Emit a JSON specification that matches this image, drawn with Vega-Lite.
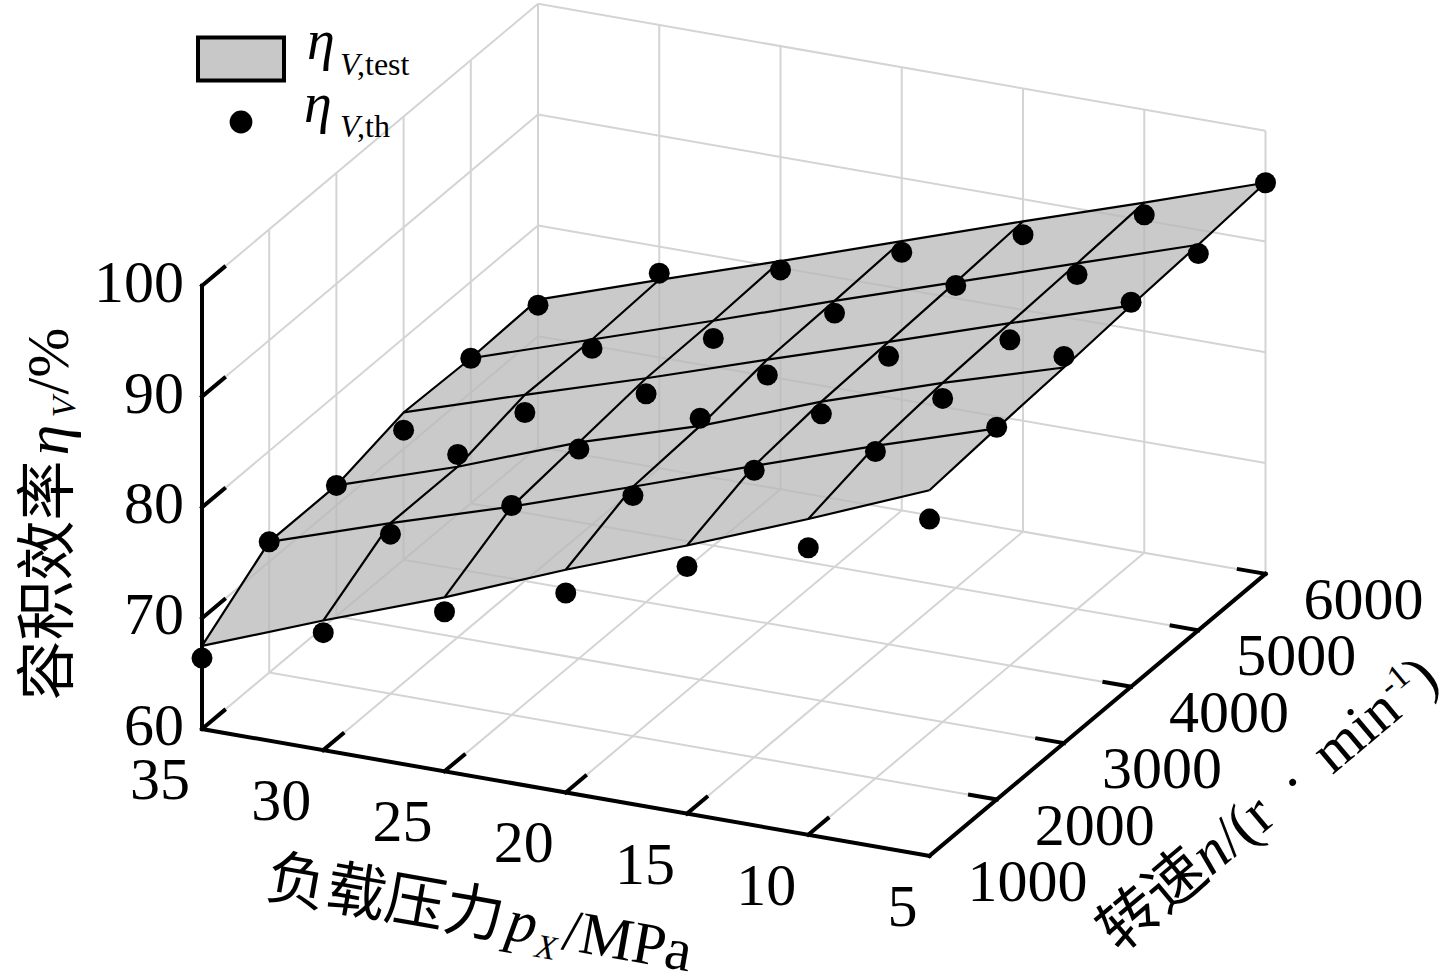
{
  "$schema": "https://vega.github.io/schema/vega-lite/v6.json",
  "width": 1455,
  "height": 975,
  "autosize": {"type": "none"},
  "padding": 0,
  "background": "white",
  "config": {"view": {"stroke": null}},
  "data": {
    "values": [
      {"kind": "test", "p": 35, "n": 1000, "e": 67.5},
      {"kind": "test", "p": 35, "n": 2000, "e": 71.8},
      {"kind": "test", "p": 35, "n": 3000, "e": 71.8},
      {"kind": "test", "p": 35, "n": 4000, "e": 73.3},
      {"kind": "test", "p": 35, "n": 5000, "e": 73.1},
      {"kind": "test", "p": 35, "n": 6000, "e": 73.3},
      {"kind": "test", "p": 30, "n": 1000, "e": 71.7},
      {"kind": "test", "p": 30, "n": 2000, "e": 75.4},
      {"kind": "test", "p": 30, "n": 3000, "e": 75.4},
      {"kind": "test", "p": 30, "n": 4000, "e": 76.8},
      {"kind": "test", "p": 30, "n": 5000, "e": 76.7},
      {"kind": "test", "p": 30, "n": 6000, "e": 77.0},
      {"kind": "test", "p": 25, "n": 1000, "e": 75.7},
      {"kind": "test", "p": 25, "n": 2000, "e": 78.8},
      {"kind": "test", "p": 25, "n": 3000, "e": 79.5},
      {"kind": "test", "p": 25, "n": 4000, "e": 80.2},
      {"kind": "test", "p": 25, "n": 5000, "e": 80.3},
      {"kind": "test", "p": 25, "n": 6000, "e": 80.6},
      {"kind": "test", "p": 20, "n": 1000, "e": 80.1},
      {"kind": "test", "p": 20, "n": 2000, "e": 82.5},
      {"kind": "test", "p": 20, "n": 3000, "e": 82.9},
      {"kind": "test", "p": 20, "n": 4000, "e": 83.8},
      {"kind": "test", "p": 20, "n": 5000, "e": 84.0},
      {"kind": "test", "p": 20, "n": 6000, "e": 84.3},
      {"kind": "test", "p": 15, "n": 1000, "e": 84.2},
      {"kind": "test", "p": 15, "n": 2000, "e": 86.3},
      {"kind": "test", "p": 15, "n": 3000, "e": 87.0},
      {"kind": "test", "p": 15, "n": 4000, "e": 87.3},
      {"kind": "test", "p": 15, "n": 5000, "e": 87.6},
      {"kind": "test", "p": 15, "n": 6000, "e": 88.0},
      {"kind": "test", "p": 10, "n": 1000, "e": 88.5},
      {"kind": "test", "p": 10, "n": 2000, "e": 90.0},
      {"kind": "test", "p": 10, "n": 3000, "e": 90.6},
      {"kind": "test", "p": 10, "n": 4000, "e": 90.9},
      {"kind": "test", "p": 10, "n": 5000, "e": 91.2},
      {"kind": "test", "p": 10, "n": 6000, "e": 91.6},
      {"kind": "test", "p": 5, "n": 1000, "e": 93.0},
      {"kind": "test", "p": 5, "n": 2000, "e": 93.5},
      {"kind": "test", "p": 5, "n": 3000, "e": 93.9},
      {"kind": "test", "p": 5, "n": 4000, "e": 94.4},
      {"kind": "test", "p": 5, "n": 5000, "e": 94.8},
      {"kind": "test", "p": 5, "n": 6000, "e": 95.3},

      {"kind": "th", "p": 35, "n": 1000, "e": 66.4},
      {"kind": "th", "p": 30, "n": 1000, "e": 70.6},
      {"kind": "th", "p": 25, "n": 1000, "e": 74.4},
      {"kind": "th", "p": 20, "n": 1000, "e": 78.0},
      {"kind": "th", "p": 15, "n": 1000, "e": 82.3},
      {"kind": "th", "p": 10, "n": 1000, "e": 85.9},
      {"kind": "th", "p": 5, "n": 1000, "e": 90.4},
      {"kind": "th", "p": 35, "n": 2000, "e": 71.8},
      {"kind": "th", "p": 30, "n": 2000, "e": 74.4},
      {"kind": "th", "p": 25, "n": 2000, "e": 78.9},
      {"kind": "th", "p": 20, "n": 2000, "e": 81.7},
      {"kind": "th", "p": 15, "n": 2000, "e": 85.9},
      {"kind": "th", "p": 10, "n": 2000, "e": 89.5},
      {"kind": "th", "p": 5, "n": 2000, "e": 93.6},
      {"kind": "th", "p": 35, "n": 3000, "e": 71.8},
      {"kind": "th", "p": 30, "n": 3000, "e": 76.5},
      {"kind": "th", "p": 25, "n": 3000, "e": 78.9},
      {"kind": "th", "p": 20, "n": 3000, "e": 83.6},
      {"kind": "th", "p": 15, "n": 3000, "e": 85.9},
      {"kind": "th", "p": 10, "n": 3000, "e": 89.2},
      {"kind": "th", "p": 5, "n": 3000, "e": 94.9},
      {"kind": "th", "p": 35, "n": 4000, "e": 71.7},
      {"kind": "th", "p": 30, "n": 4000, "e": 75.2},
      {"kind": "th", "p": 25, "n": 4000, "e": 78.8},
      {"kind": "th", "p": 20, "n": 4000, "e": 82.4},
      {"kind": "th", "p": 15, "n": 4000, "e": 86.0},
      {"kind": "th", "p": 10, "n": 4000, "e": 89.4},
      {"kind": "th", "p": 5, "n": 4000, "e": 94.7},
      {"kind": "th", "p": 35, "n": 5000, "e": 73.1},
      {"kind": "th", "p": 30, "n": 5000, "e": 75.9},
      {"kind": "th", "p": 25, "n": 5000, "e": 78.7},
      {"kind": "th", "p": 20, "n": 5000, "e": 82.9},
      {"kind": "th", "p": 15, "n": 5000, "e": 87.3},
      {"kind": "th", "p": 10, "n": 5000, "e": 90.2},
      {"kind": "th", "p": 5, "n": 5000, "e": 94.0},
      {"kind": "th", "p": 35, "n": 6000, "e": 72.8},
      {"kind": "th", "p": 30, "n": 6000, "e": 77.6},
      {"kind": "th", "p": 25, "n": 6000, "e": 79.8},
      {"kind": "th", "p": 20, "n": 6000, "e": 83.3},
      {"kind": "th", "p": 15, "n": 6000, "e": 86.8},
      {"kind": "th", "p": 10, "n": 6000, "e": 90.5},
      {"kind": "th", "p": 5, "n": 6000, "e": 95.3},

      {"kind": "grid", "p": 35, "n": 1000, "e": 60, "p2": 35, "n2": 6000, "e2": 60},
      {"kind": "grid", "p": 30, "n": 1000, "e": 60, "p2": 30, "n2": 6000, "e2": 60},
      {"kind": "grid", "p": 25, "n": 1000, "e": 60, "p2": 25, "n2": 6000, "e2": 60},
      {"kind": "grid", "p": 20, "n": 1000, "e": 60, "p2": 20, "n2": 6000, "e2": 60},
      {"kind": "grid", "p": 15, "n": 1000, "e": 60, "p2": 15, "n2": 6000, "e2": 60},
      {"kind": "grid", "p": 10, "n": 1000, "e": 60, "p2": 10, "n2": 6000, "e2": 60},
      {"kind": "grid", "p": 35, "n": 2000, "e": 60, "p2": 5, "n2": 2000, "e2": 60},
      {"kind": "grid", "p": 35, "n": 3000, "e": 60, "p2": 5, "n2": 3000, "e2": 60},
      {"kind": "grid", "p": 35, "n": 4000, "e": 60, "p2": 5, "n2": 4000, "e2": 60},
      {"kind": "grid", "p": 35, "n": 5000, "e": 60, "p2": 5, "n2": 5000, "e2": 60},
      {"kind": "grid", "p": 35, "n": 6000, "e": 60, "p2": 5, "n2": 6000, "e2": 60},
      {"kind": "grid", "p": 35, "n": 2000, "e": 60, "p2": 35, "n2": 2000, "e2": 100},
      {"kind": "grid", "p": 35, "n": 3000, "e": 60, "p2": 35, "n2": 3000, "e2": 100},
      {"kind": "grid", "p": 35, "n": 4000, "e": 60, "p2": 35, "n2": 4000, "e2": 100},
      {"kind": "grid", "p": 35, "n": 5000, "e": 60, "p2": 35, "n2": 5000, "e2": 100},
      {"kind": "grid", "p": 35, "n": 6000, "e": 60, "p2": 35, "n2": 6000, "e2": 100},
      {"kind": "grid", "p": 35, "n": 1000, "e": 70, "p2": 35, "n2": 6000, "e2": 70},
      {"kind": "grid", "p": 35, "n": 1000, "e": 80, "p2": 35, "n2": 6000, "e2": 80},
      {"kind": "grid", "p": 35, "n": 1000, "e": 90, "p2": 35, "n2": 6000, "e2": 90},
      {"kind": "grid", "p": 35, "n": 1000, "e": 100, "p2": 35, "n2": 6000, "e2": 100},
      {"kind": "grid", "p": 30, "n": 6000, "e": 60, "p2": 30, "n2": 6000, "e2": 100},
      {"kind": "grid", "p": 25, "n": 6000, "e": 60, "p2": 25, "n2": 6000, "e2": 100},
      {"kind": "grid", "p": 20, "n": 6000, "e": 60, "p2": 20, "n2": 6000, "e2": 100},
      {"kind": "grid", "p": 15, "n": 6000, "e": 60, "p2": 15, "n2": 6000, "e2": 100},
      {"kind": "grid", "p": 10, "n": 6000, "e": 60, "p2": 10, "n2": 6000, "e2": 100},
      {"kind": "grid", "p": 5, "n": 6000, "e": 60, "p2": 5, "n2": 6000, "e2": 100},
      {"kind": "grid", "p": 35, "n": 6000, "e": 70, "p2": 5, "n2": 6000, "e2": 70},
      {"kind": "grid", "p": 35, "n": 6000, "e": 80, "p2": 5, "n2": 6000, "e2": 80},
      {"kind": "grid", "p": 35, "n": 6000, "e": 90, "p2": 5, "n2": 6000, "e2": 90},
      {"kind": "grid", "p": 35, "n": 6000, "e": 100, "p2": 5, "n2": 6000, "e2": 100},

      {"kind": "axis", "p": 35, "n": 1000, "e": 60, "p2": 35, "n2": 1000, "e2": 100},
      {"kind": "axis", "p": 35, "n": 1000, "e": 60, "p2": 5, "n2": 1000, "e2": 60},
      {"kind": "axis", "p": 5, "n": 1000, "e": 60, "p2": 5, "n2": 6000, "e2": 60},
      {"kind": "axis", "p": 35, "n": 1000, "e": 60, "p2": 35, "n2": 1330, "e2": 60},
      {"kind": "axis", "p": 35, "n": 1000, "e": 70, "p2": 35, "n2": 1330, "e2": 70},
      {"kind": "axis", "p": 35, "n": 1000, "e": 80, "p2": 35, "n2": 1330, "e2": 80},
      {"kind": "axis", "p": 35, "n": 1000, "e": 90, "p2": 35, "n2": 1330, "e2": 90},
      {"kind": "axis", "p": 35, "n": 1000, "e": 100, "p2": 35, "n2": 1330, "e2": 100},
      {"kind": "axis", "p": 30, "n": 1000, "e": 60, "p2": 30, "n2": 1290, "e2": 60},
      {"kind": "axis", "p": 25, "n": 1000, "e": 60, "p2": 25, "n2": 1290, "e2": 60},
      {"kind": "axis", "p": 20, "n": 1000, "e": 60, "p2": 20, "n2": 1290, "e2": 60},
      {"kind": "axis", "p": 15, "n": 1000, "e": 60, "p2": 15, "n2": 1290, "e2": 60},
      {"kind": "axis", "p": 10, "n": 1000, "e": 60, "p2": 10, "n2": 1290, "e2": 60},
      {"kind": "axis", "p": 5, "n": 2000, "e": 60, "p2": 6.1, "n2": 2000, "e2": 60},
      {"kind": "axis", "p": 5, "n": 3000, "e": 60, "p2": 6.1, "n2": 3000, "e2": 60},
      {"kind": "axis", "p": 5, "n": 4000, "e": 60, "p2": 6.1, "n2": 4000, "e2": 60},
      {"kind": "axis", "p": 5, "n": 5000, "e": 60, "p2": 6.1, "n2": 5000, "e2": 60},
      {"kind": "axis", "p": 5, "n": 6000, "e": 60, "p2": 6.1, "n2": 6000, "e2": 60},

      {"kind": "lab_e", "p": 35, "n": 1000, "e": 60, "label": "60"},
      {"kind": "lab_e", "p": 35, "n": 1000, "e": 70, "label": "70"},
      {"kind": "lab_e", "p": 35, "n": 1000, "e": 80, "label": "80"},
      {"kind": "lab_e", "p": 35, "n": 1000, "e": 90, "label": "90"},
      {"kind": "lab_e", "p": 35, "n": 1000, "e": 100, "label": "100"},
      {"kind": "lab_p", "p": 35, "n": 1000, "e": 60, "label": "35"},
      {"kind": "lab_p", "p": 30, "n": 1000, "e": 60, "label": "30"},
      {"kind": "lab_p", "p": 25, "n": 1000, "e": 60, "label": "25"},
      {"kind": "lab_p", "p": 20, "n": 1000, "e": 60, "label": "20"},
      {"kind": "lab_p", "p": 15, "n": 1000, "e": 60, "label": "15"},
      {"kind": "lab_p", "p": 10, "n": 1000, "e": 60, "label": "10"},
      {"kind": "lab_p", "p": 5, "n": 1000, "e": 60, "label": "5"},
      {"kind": "lab_n", "p": 5, "n": 1000, "e": 60, "label": "1000"},
      {"kind": "lab_n", "p": 5, "n": 2000, "e": 60, "label": "2000"},
      {"kind": "lab_n", "p": 5, "n": 3000, "e": 60, "label": "3000"},
      {"kind": "lab_n", "p": 5, "n": 4000, "e": 60, "label": "4000"},
      {"kind": "lab_n", "p": 5, "n": 5000, "e": 60, "label": "5000"},
      {"kind": "lab_n", "p": 5, "n": 6000, "e": 60, "label": "6000"},

      {"kind": "title_e", "p": 35, "n": 1000, "e": 80},
      {"kind": "title_p", "p": 20, "n": 1000, "e": 60},
      {"kind": "title_n", "p": 5, "n": 3500, "e": 60}
    ]
  },
  "transform": [
    {"calculate": "202 + (35 - datum.p) * 24.25 + (datum.n - 1000) * 0.0672", "as": "px"},
    {"calculate": "729 + (35 - datum.p) * 4.23 - (datum.n - 1000) * 0.0564 - (datum.e - 60) * 11.08", "as": "py"},
    {"calculate": "202 + (35 - datum.p2) * 24.25 + (datum.n2 - 1000) * 0.0672", "as": "px2"},
    {"calculate": "729 + (35 - datum.p2) * 4.23 - (datum.n2 - 1000) * 0.0564 - (datum.e2 - 60) * 11.08", "as": "py2"}
  ],
  "encoding": {
    "x": {"field": "px", "type": "quantitative", "scale": {"domain": [0, 1455], "nice": false, "zero": false}, "axis": null},
    "y": {"field": "py", "type": "quantitative", "scale": {"domain": [0, 975], "nice": false, "zero": false, "reverse": true}, "axis": null}
  },
  "resolve": {"scale": {"shape": "independent"}, "legend": {"shape": "independent"}},
  "layer": [
    {
      "transform": [{"filter": "datum.kind == 'grid'"}],
      "mark": {"type": "rule", "color": "#d4d4d4", "strokeWidth": 2},
      "encoding": {"x2": {"field": "px2"}, "y2": {"field": "py2"}}
    },
    {
      "transform": [
        {"filter": "datum.kind == 'test' && (datum.n == 1000 || datum.n == 6000 || datum.p == 5 || datum.p == 35)"},
        {"calculate": "datum.n == 1000 ? (35 - datum.p) / 5 : (datum.p == 5 ? 6 + (datum.n - 1000) / 1000 : (datum.n == 6000 ? 11 + (datum.p - 5) / 5 : 17 + (6000 - datum.n) / 1000))", "as": "k"}
      ],
      "mark": {"type": "line", "interpolate": "linear-closed", "fill": "#b8b8b8", "fillOpacity": 0.75, "strokeOpacity": 0},
      "encoding": {"order": {"field": "k", "type": "quantitative"}}
    },
    {
      "transform": [{"filter": "datum.kind == 'test'"}],
      "mark": {"type": "line", "color": "#000000", "strokeWidth": 2.2},
      "encoding": {
        "detail": {"field": "n", "type": "nominal"},
        "order": {"field": "p", "type": "quantitative", "sort": "descending"}
      }
    },
    {
      "transform": [{"filter": "datum.kind == 'test'"}],
      "mark": {"type": "line", "color": "#000000", "strokeWidth": 2.2},
      "encoding": {
        "detail": {"field": "p", "type": "nominal"},
        "order": {"field": "n", "type": "quantitative"}
      }
    },
    {
      "transform": [{"filter": "datum.kind == 'axis'"}],
      "mark": {"type": "rule", "color": "#000000", "strokeWidth": 4, "strokeCap": "square"},
      "encoding": {"x2": {"field": "px2"}, "y2": {"field": "py2"}}
    },
    {
      "transform": [{"filter": "datum.kind == 'test'"}, {"calculate": "'test'", "as": "lr"}],
      "mark": {"type": "point", "filled": true, "fill": "#c8c8c8", "stroke": "#000000", "strokeWidth": 4, "opacity": 0, "size": 7396},
      "encoding": {
        "shape": {
          "field": "lr", "type": "nominal",
          "scale": {"domain": ["test"], "range": ["M-1,-0.5H1V0.5H-1Z"]},
          "legend": {
            "orient": "none", "legendX": 196, "legendY": 28, "title": null, "padding": 0,
            "labelExpr": "'η'", "labelFont": "Liberation Serif", "labelFontStyle": "italic", "labelFontSize": 56,
            "labelBaseline": "alphabetic", "labelOffset": 21, "labelColor": "#000000",
            "symbolSize": 7396, "symbolOpacity": 1, "symbolStrokeWidth": 4, "clipHeight": 62
          }
        }
      }
    },
    {
      "transform": [
        {"filter": "datum.kind == 'th'"},
        {"calculate": "datum.kind", "as": "series"},
        {"calculate": "'v' + datum.kind", "as": "s2"},
        {"calculate": "'c' + datum.kind", "as": "s3"}
      ],
      "mark": {"type": "point", "filled": true, "size": 440, "strokeWidth": 0},
      "encoding": {
        "fill": {
          "field": "series", "type": "nominal",
          "scale": {"domain": ["th"], "range": ["#000000"]},
          "legend": {
            "orient": "none", "legendX": 213, "legendY": 91, "title": null, "padding": 0,
            "labelExpr": "'η'", "labelFont": "Liberation Serif", "labelFontStyle": "italic", "labelFontSize": 56,
            "labelBaseline": "alphabetic", "labelOffset": 35, "labelColor": "#000000",
            "symbolSize": 520, "symbolOpacity": 1, "clipHeight": 62
          }
        },
        "opacity": {
          "field": "s2", "type": "nominal",
          "scale": {"domain": ["vtest", "vth"], "range": [1, 1]},
          "legend": {
            "orient": "none", "legendX": 308, "legendY": 44, "title": null, "padding": 0,
            "labelExpr": "'V'", "labelFont": "Liberation Serif", "labelFontStyle": "italic", "labelFontSize": 32,
            "labelBaseline": "alphabetic", "labelOffset": 0, "labelColor": "#000000",
            "symbolSize": 0, "symbolStrokeWidth": 0, "symbolOpacity": 0, "clipHeight": 62, "rowPadding": 0
          }
        },
        "shape": {
          "field": "s3", "type": "nominal",
          "scale": {"domain": ["ctest", "cth"], "range": ["circle", "circle"]},
          "legend": {
            "orient": "none", "legendX": 325, "legendY": 44, "title": null, "padding": 0,
            "labelExpr": "datum.value == 'ctest' ? ',test' : ',th'", "labelFont": "Liberation Serif", "labelFontSize": 32,
            "labelBaseline": "alphabetic", "labelOffset": 0, "labelColor": "#000000",
            "symbolSize": 0, "symbolStrokeWidth": 0, "symbolOpacity": 0, "clipHeight": 62, "rowPadding": 0
          }
        }
      }
    },
    {
      "transform": [{"filter": "datum.kind == 'lab_e'"}],
      "mark": {"type": "text", "align": "right", "baseline": "middle", "dx": -18, "dy": -2, "font": "Liberation Serif", "fontSize": 60, "color": "#000000"},
      "encoding": {"text": {"field": "label", "type": "nominal"}}
    },
    {
      "transform": [{"filter": "datum.kind == 'lab_p'"}],
      "mark": {"type": "text", "align": "right", "baseline": "middle", "dx": -12, "dy": 52, "font": "Liberation Serif", "fontSize": 60, "color": "#000000"},
      "encoding": {"text": {"field": "label", "type": "nominal"}}
    },
    {
      "transform": [{"filter": "datum.kind == 'lab_n'"}],
      "mark": {"type": "text", "align": "left", "baseline": "middle", "dx": 38, "dy": 27, "font": "Liberation Serif", "fontSize": 60, "color": "#000000"},
      "encoding": {"text": {"field": "label", "type": "nominal"}}
    },
    {
      "transform": [{"filter": "datum.kind == 'title_e'"}],
      "mark": {"type": "text", "text": "容积效率", "angle": 270, "align": "left", "baseline": "alphabetic", "dx": -193, "dy": -134, "font": "Noto Sans CJK SC", "fontSize": 60, "color": "#000000"}
    },
    {
      "transform": [{"filter": "datum.kind == 'title_e'"}],
      "mark": {"type": "text", "text": "η", "angle": 270, "align": "left", "baseline": "alphabetic", "dx": 52, "dy": -134, "font": "Liberation Serif", "fontStyle": "italic", "fontSize": 62, "color": "#000000"}
    },
    {
      "transform": [{"filter": "datum.kind == 'title_e'"}],
      "mark": {"type": "text", "text": "V", "angle": 270, "align": "left", "baseline": "alphabetic", "dx": 90, "dy": -127, "font": "Liberation Serif", "fontStyle": "italic", "fontSize": 34, "color": "#000000"}
    },
    {
      "transform": [{"filter": "datum.kind == 'title_e'"}],
      "mark": {"type": "text", "text": "/%", "angle": 270, "align": "left", "baseline": "alphabetic", "dx": 113, "dy": -134, "font": "Liberation Serif", "fontSize": 60, "color": "#000000"}
    },
    {
      "transform": [{"filter": "datum.kind == 'title_p'"}],
      "mark": {"type": "text", "text": "负载压力", "angle": 10, "align": "left", "baseline": "alphabetic", "dx": -279, "dy": 155, "font": "Noto Sans CJK SC", "fontSize": 60, "color": "#000000"}
    },
    {
      "transform": [{"filter": "datum.kind == 'title_p'"}],
      "mark": {"type": "text", "text": "p", "angle": 10, "align": "left", "baseline": "alphabetic", "dx": -35, "dy": 155, "font": "Liberation Serif", "fontStyle": "italic", "fontSize": 60, "color": "#000000"}
    },
    {
      "transform": [{"filter": "datum.kind == 'title_p'"}],
      "mark": {"type": "text", "text": "X", "angle": 10, "align": "left", "baseline": "alphabetic", "dx": -3, "dy": 167, "font": "Liberation Serif", "fontStyle": "italic", "fontSize": 34, "color": "#000000"}
    },
    {
      "transform": [{"filter": "datum.kind == 'title_p'"}],
      "mark": {"type": "text", "text": "/MPa", "angle": 10, "align": "left", "baseline": "alphabetic", "dx": 22, "dy": 155, "font": "Liberation Serif", "fontSize": 60, "color": "#000000"}
    },
    {
      "transform": [{"filter": "datum.kind == 'title_n'"}],
      "mark": {"type": "text", "text": "转速", "angle": 320, "align": "left", "baseline": "alphabetic", "dx": -137, "dy": 197, "font": "Noto Sans CJK SC", "fontSize": 60, "color": "#000000"}
    },
    {
      "transform": [{"filter": "datum.kind == 'title_n'"}],
      "mark": {"type": "text", "text": "n", "angle": 320, "align": "left", "baseline": "alphabetic", "dx": -17, "dy": 197, "font": "Liberation Serif", "fontStyle": "italic", "fontSize": 60, "color": "#000000"}
    },
    {
      "transform": [{"filter": "datum.kind == 'title_n'"}],
      "mark": {"type": "text", "text": "/(r", "angle": 320, "align": "left", "baseline": "alphabetic", "dx": 13, "dy": 197, "font": "Liberation Serif", "fontSize": 60, "color": "#000000"}
    },
    {
      "transform": [{"filter": "datum.kind == 'title_n'"}],
      "mark": {"type": "text", "text": "·", "angle": 320, "align": "left", "baseline": "alphabetic", "dx": 96, "dy": 197, "font": "Liberation Serif", "fontSize": 60, "color": "#000000"}
    },
    {
      "transform": [{"filter": "datum.kind == 'title_n'"}],
      "mark": {"type": "text", "text": "min", "angle": 320, "align": "left", "baseline": "alphabetic", "dx": 141, "dy": 197, "font": "Liberation Serif", "fontSize": 60, "color": "#000000"}
    },
    {
      "transform": [{"filter": "datum.kind == 'title_n'"}],
      "mark": {"type": "text", "text": "-1", "angle": 320, "align": "left", "baseline": "alphabetic", "dx": 235, "dy": 175, "font": "Liberation Serif", "fontSize": 34, "color": "#000000"}
    },
    {
      "transform": [{"filter": "datum.kind == 'title_n'"}],
      "mark": {"type": "text", "text": ")", "angle": 320, "align": "left", "baseline": "alphabetic", "dx": 264, "dy": 197, "font": "Liberation Serif", "fontSize": 60, "color": "#000000"}
    }
  ]
}
